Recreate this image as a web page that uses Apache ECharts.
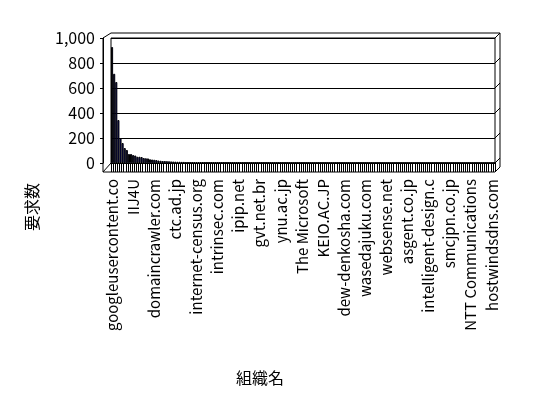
<!DOCTYPE html>
<html>
<head>
<meta charset="utf-8">
<script src="https://cdn.jsdelivr.net/npm/echarts@6/dist/echarts.min.js"></script>
<style>
    html, body { margin: 0; padding: 0; background: #fff; }
    #chart { width: 548px; height: 398px; }
</style>
</head>
<body>
<div id="chart"></div>
<script>
// organisation names shown on the axis (every 10th category)
var shownOrgs = [
    'googleusercontent.co', 'IIJ4U', 'domaincrawler.com', 'ctc.ad.jp',
    'internet-census.org', 'intrinsec.com', 'ipip.net', 'gvt.net.br',
    'ynu.ac.jp', 'The Microsoft', 'KEIO.AC.JP', 'dew-denkosha.com',
    'wasedajuku.com', 'websense.net', 'asgent.co.jp', 'intelligent-design.c',
    'smcjpn.co.jp', 'NTT Communications', 'hostwindsdns.com'
];

// request counts per organisation, sorted descending
var requests = [
    928, 714, 648, 344, 200, 160, 120, 104, 72, 72,
    64, 60, 50, 50, 48, 40, 38, 37, 30, 28,
    26, 24, 20, 18, 16, 16, 15, 14, 13, 12,
    11, 10, 10, 9, 9, 8, 8, 8, 7, 7,
    7, 6, 6, 6, 6, 5, 5, 5, 5, 5,
    5, 4, 4, 4, 4, 4, 4, 4, 4, 4,
    4, 3, 3, 3, 3, 3, 3, 3, 3, 3,
    3, 3, 3, 3, 3, 3, 3, 3, 3, 3,
    3, 3, 3, 3, 3, 2, 2, 2, 2, 2,
    2, 2, 2, 2, 2, 2, 2, 2, 2, 2,
    2, 2, 2, 2, 2, 2, 2, 2, 2, 2,
    2, 2, 2, 2, 2, 2, 2, 2, 2, 2,
    2, 2, 2, 2, 1, 1, 1, 1, 1, 1,
    1, 1, 1, 1, 1, 1, 1, 1, 1, 1,
    1, 1, 1, 1, 1, 1, 1, 1, 1, 1,
    1, 1, 1, 1, 1, 1, 1, 1, 1, 1,
    1, 1, 1, 1, 1, 1, 1, 1, 1, 1,
    1, 1, 1, 1, 1, 1, 1, 1, 1, 1,
    1, 1
];

var yTicks = [0, 200, 400, 600, 800, 1000];

var FONT = '"Noto Sans CJK JP", "Noto Sans", sans-serif';

function buildCategories() {
    var cats = [];
    for (var i = 0; i < requests.length; i++) {
        cats.push(i % 10 === 0 ? (shownOrgs[i / 10] || '') : '');
    }
    return cats;
}

function showChart() {
    var chart = echarts.init(document.getElementById('chart'), null, { renderer: 'canvas' });

    // 3D-ish frame like the old spreadsheet chart
    var frame = [];
    frame.push({
        type: 'polyline',
        shape: { points: [[111, 33], [500, 33], [500, 167], [495, 172], [103, 172], [103, 38], [111, 33]] },
        style: { stroke: '#000', fill: null, lineWidth: 1 },
        silent: true
    });
    var gy = [38, 63, 88, 113, 138, 163];
    for (var k = 0; k < gy.length; k++) {
        frame.push({
            type: 'line',
            shape: { x1: 495, y1: gy[k], x2: 500, y2: gy[k] - 5 },
            style: { stroke: '#000', lineWidth: 1 },
            silent: true
        });
    }
    frame.push({
        type: 'line',
        shape: { x1: 103, y1: 172, x2: 111, y2: 163 },
        style: { stroke: '#000', lineWidth: 1 },
        silent: true
    });
    frame.push({
        type: 'text',
        x: 32, y: 207,
        rotation: Math.PI / 2,
        style: { text: '要求数', font: '16px ' + FONT, fill: '#000', align: 'center', verticalAlign: 'middle' },
        silent: true
    });
    frame.push({
        type: 'text',
        x: 260, y: 378,
        style: { text: '組織名', font: '16px ' + FONT, fill: '#000', align: 'center', verticalAlign: 'middle' },
        silent: true
    });

    var option = {
        backgroundColor: '#fff',
        animation: false,
        grid: {
            left: 111, right: 53, top: 38, bottom: 235,
            show: true, borderColor: '#000', borderWidth: 1, backgroundColor: '#fff'
        },
        xAxis: {
            type: 'category',
            data: buildCategories(),
            axisLine: { lineStyle: { color: '#000', width: 1 } },
            axisTick: { show: true, interval: 0, length: 9, lineStyle: { color: '#000', width: 1 } },
            axisLabel: {
                interval: 9, rotate: 90, margin: 16,
                color: '#000', fontSize: 15, fontFamily: FONT
            },
            splitLine: { show: false }
        },
        yAxis: {
            type: 'value',
            min: yTicks[0], max: yTicks[yTicks.length - 1], interval: 200,
            offset: 8,
            axisLine: { show: true, lineStyle: { color: '#000', width: 1 } },
            axisTick: { show: true, length: 3, lineStyle: { color: '#000' } },
            axisLabel: {
                margin: 8, color: '#000', fontSize: 16, fontFamily: FONT,
                formatter: function (v) { return v.toLocaleString('en-US'); }
            },
            splitLine: { show: true, lineStyle: { color: '#000', width: 1 } }
        },
        series: [{
            name: '要求数',
            type: 'bar',
            data: requests,
            barCategoryGap: '0%',
            itemStyle: { color: '#00008c', borderColor: '#000', borderWidth: 1 }
        }],
        graphic: frame
    };

    chart.setOption(option);
}

showChart();
</script>
</body>
</html>
